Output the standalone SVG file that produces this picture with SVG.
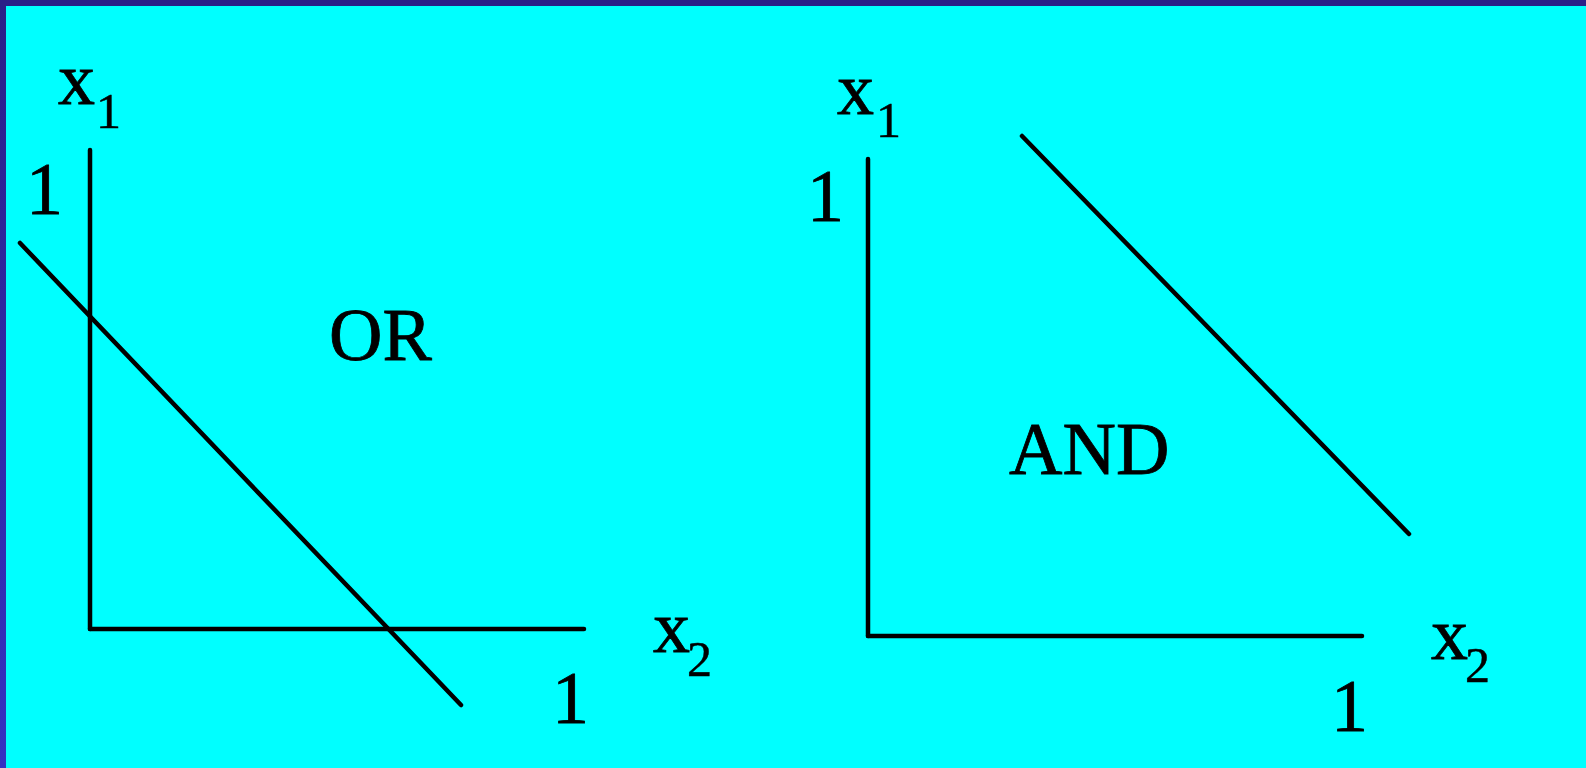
<svg xmlns="http://www.w3.org/2000/svg" width="1586" height="768" viewBox="0 0 1586 768">
  <defs>
    <linearGradient id="leftBorder" x1="0" y1="0" x2="0" y2="1">
      <stop offset="0" stop-color="#2a2088"/>
      <stop offset="1" stop-color="#3432c2"/>
    </linearGradient>
    <style>
      .ln { stroke: #000; stroke-width: 4.5; stroke-linecap: round; fill: none; }
      .t { font-family: "Liberation Serif", "Times New Roman", serif; font-size: 74px; fill: #000; stroke: #000; stroke-width: 0.8; }
      .s { font-family: "Liberation Serif", "Times New Roman", serif; font-size: 50px; fill: #000; stroke: #000; stroke-width: 0.5; }
    </style>
  </defs>
  <rect x="0" y="0" width="1586" height="768" fill="#00ffff"/>
  <rect x="0" y="0" width="1586" height="6" fill="#2a2088"/>
  <rect x="0" y="0" width="6" height="768" fill="url(#leftBorder)"/>

  <g id="or-panel">
    <g id="or-axes">
      <line class="ln" x1="90" y1="150" x2="90" y2="629"/>
      <line class="ln" x1="90" y1="629" x2="584" y2="629"/>
    </g>
    <line id="or-boundary" class="ln" x1="20" y1="243" x2="461" y2="705"/>
    <text class="t" x="58" y="104">x</text>
    <text class="s" x="96" y="128">1</text>
    <text class="t" x="26" y="214">1</text>
    <text class="t" x="653" y="652">x</text>
    <text class="s" x="687" y="676">2</text>
    <text class="t" x="552" y="723">1</text>
    <text id="or-label" class="t" x="329" y="360">OR</text>
  </g>

  <g id="and-panel">
    <g id="and-axes">
      <line class="ln" x1="868" y1="159" x2="868" y2="636"/>
      <line class="ln" x1="868" y1="636" x2="1362" y2="636"/>
    </g>
    <line id="and-boundary" class="ln" x1="1022" y1="136" x2="1409" y2="534"/>
    <text class="t" x="837" y="114">x</text>
    <text class="s" x="876" y="137">1</text>
    <text class="t" x="807" y="221">1</text>
    <text class="t" x="1431" y="659">x</text>
    <text class="s" x="1465" y="682">2</text>
    <text class="t" x="1331" y="731">1</text>
    <text id="and-label" class="t" x="1009" y="474">AND</text>
  </g>
</svg>
